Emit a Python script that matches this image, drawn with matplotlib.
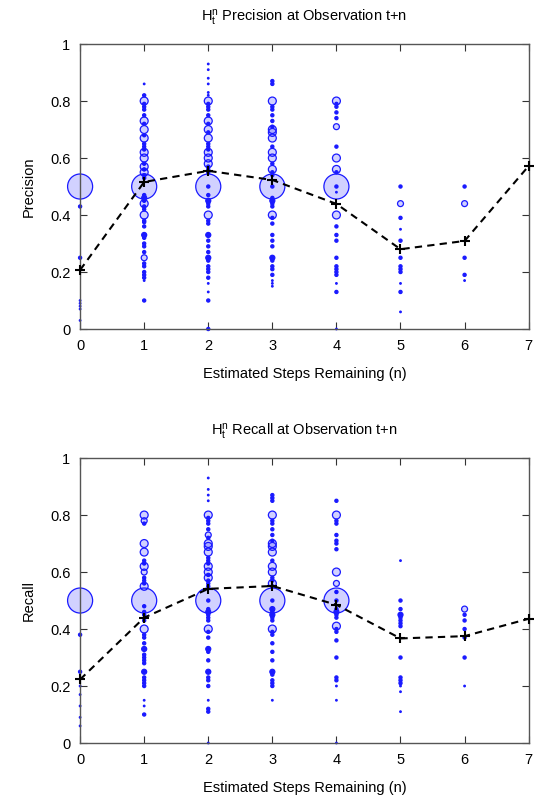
"""Precision / recall of H_t^n against estimated steps remaining (two stacked panels)."""

import matplotlib
matplotlib.use("Agg")
import matplotlib.pyplot as plt
import numpy as np

plt.rcParams["font.family"] = ["Liberation Sans", "DejaVu Sans"]
plt.rcParams["mathtext.fontset"] = "custom"
plt.rcParams["mathtext.rm"] = "Liberation Sans"
plt.rcParams["mathtext.it"] = "Liberation Sans"

# marker weight codes (number of runs behind a point)
BIG, RING, SRING, MED, SMALL, TINY = 250, 25, 14, 10, 4, 1

steps = [0, 1, 2, 3, 4, 5, 6, 7]
prec_mean = [0.207, 0.516, 0.555, 0.523, 0.439, 0.280, 0.309, 0.572]
rec_mean = [0.223, 0.440, 0.541, 0.551, 0.485, 0.367, 0.375, 0.436]

# --- precision points, one (values, weights) pair per step ---
prec_y0 = [0.50, 0.43, 0.25, 0.10, 0.09, 0.08, 0.07, 0.03]
prec_w0 = [BIG, SMALL, SMALL, TINY, TINY, TINY, TINY, TINY]
prec_y1 = [0.86, 0.82, 0.80, 0.79, 0.78, 0.77, 0.75, 0.73, 0.72, 0.70, 0.68, 0.67,
           0.65, 0.64, 0.63, 0.62, 0.60, 0.58, 0.57, 0.56, 0.55, 0.54, 0.53, 0.50,
           0.47, 0.46, 0.45, 0.44, 0.43, 0.42, 0.40, 0.38, 0.375, 0.36, 0.33, 0.32,
           0.30, 0.29, 0.27, 0.25, 0.23, 0.22, 0.20, 0.19, 0.18, 0.17, 0.10]
prec_w1 = [TINY, SMALL, RING, SMALL, SMALL, SMALL, SMALL, RING, SMALL, RING, SMALL, RING,
           SMALL, SMALL, SMALL, RING, RING, SMALL, RING, SMALL, RING, SMALL, SMALL, BIG,
           SMALL, MED, SMALL, RING, SMALL, SMALL, RING, SMALL, SMALL, SMALL, MED, SMALL,
           SMALL, SMALL, SMALL, SRING, SMALL, SMALL, SMALL, SMALL, SMALL, TINY, SMALL]
prec_y2 = [0.93, 0.91, 0.88, 0.86, 0.83, 0.82, 0.80, 0.79, 0.78, 0.77, 0.75, 0.73,
           0.72, 0.70, 0.69, 0.67, 0.65, 0.64, 0.63, 0.62, 0.60, 0.58, 0.57, 0.56,
           0.55, 0.50, 0.50, 0.47, 0.45, 0.44, 0.43, 0.40, 0.38, 0.37, 0.33, 0.31,
           0.29, 0.27, 0.25, 0.24, 0.22, 0.21, 0.20, 0.18, 0.16, 0.13, 0.10, 0.0]
prec_w2 = [TINY, TINY, TINY, TINY, TINY, TINY, RING, SMALL, SMALL, SMALL, SMALL, RING,
           SMALL, RING, SMALL, RING, SMALL, SMALL, SMALL, RING, RING, RING, SMALL, SMALL,
           SMALL, BIG, SMALL, SMALL, MED, SMALL, SMALL, RING, SMALL, SMALL, MED, SMALL,
           SMALL, SMALL, MED, SMALL, SMALL, SMALL, SMALL, SMALL, TINY, TINY, SMALL, SMALL]
prec_y3 = [0.87, 0.86, 0.80, 0.78, 0.77, 0.75, 0.73, 0.71, 0.70, 0.69, 0.67, 0.64,
           0.62, 0.60, 0.58, 0.56, 0.55, 0.54, 0.50, 0.50, 0.46, 0.45, 0.44, 0.43,
           0.40, 0.39, 0.37, 0.33, 0.31, 0.29, 0.25, 0.24, 0.22, 0.21, 0.19, 0.17,
           0.16, 0.15]
prec_w3 = [SMALL, SMALL, RING, SMALL, SMALL, SMALL, SMALL, SMALL, RING, RING, RING, SMALL,
           RING, RING, SMALL, RING, SMALL, SMALL, BIG, SMALL, SMALL, MED, SMALL, SMALL,
           RING, SMALL, SMALL, SMALL, SMALL, SMALL, MED, SMALL, SMALL, SMALL, SMALL, TINY,
           TINY, TINY]
prec_y4 = [0.80, 0.79, 0.78, 0.76, 0.74, 0.71, 0.64, 0.60, 0.56, 0.55, 0.50, 0.50,
           0.48, 0.40, 0.36, 0.33, 0.31, 0.25, 0.22, 0.21, 0.20, 0.19, 0.16, 0.13, 0.0]
prec_w4 = [RING, SMALL, SMALL, SMALL, SMALL, SRING, SMALL, RING, RING, SMALL, BIG, SMALL,
           TINY, RING, SMALL, SMALL, SMALL, SMALL, SMALL, SMALL, SMALL, SMALL, TINY, SMALL, TINY]
prec_y5 = [0.50, 0.44, 0.39, 0.35, 0.31, 0.25, 0.22, 0.21, 0.20, 0.16, 0.13, 0.06]
prec_w5 = [SMALL, SRING, SMALL, TINY, SMALL, SMALL, SMALL, SMALL, SMALL, TINY, SMALL, TINY]
prec_y6 = [0.50, 0.44, 0.25, 0.19, 0.17]
prec_w6 = [SMALL, SRING, SMALL, SMALL, TINY]

# --- recall points ---
rec_y0 = [0.50, 0.38, 0.25, 0.20, 0.17, 0.13, 0.09, 0.06]
rec_w0 = [BIG, SMALL, SMALL, TINY, TINY, TINY, TINY, TINY]
rec_y1 = [0.80, 0.78, 0.77, 0.70, 0.67, 0.64, 0.63, 0.62, 0.60, 0.58, 0.57, 0.56,
          0.55, 0.50, 0.48, 0.46, 0.45, 0.43, 0.40, 0.38, 0.37, 0.35, 0.33, 0.31,
          0.30, 0.29, 0.28, 0.25, 0.23, 0.22, 0.21, 0.20, 0.15, 0.13, 0.10]
rec_w1 = [RING, SRING, SMALL, RING, RING, SMALL, SMALL, RING, SRING, SMALL, SMALL, SMALL,
          RING, BIG, SMALL, SMALL, SMALL, SMALL, RING, SMALL, SMALL, SMALL, MED, SMALL,
          SMALL, SMALL, SMALL, MED, SMALL, SMALL, SMALL, SMALL, TINY, TINY, SMALL]
rec_y2 = [0.93, 0.89, 0.87, 0.85, 0.80, 0.79, 0.78, 0.77, 0.75, 0.73, 0.72, 0.70,
          0.69, 0.67, 0.65, 0.64, 0.63, 0.62, 0.60, 0.59, 0.58, 0.57, 0.56, 0.55,
          0.50, 0.50, 0.47, 0.46, 0.45, 0.44, 0.43, 0.40, 0.39, 0.37, 0.33, 0.32,
          0.29, 0.25, 0.23, 0.22, 0.20, 0.15, 0.12, 0.11, 0.0]
rec_w2 = [TINY, TINY, TINY, TINY, RING, SMALL, SMALL, SMALL, SMALL, SRING, SMALL, RING,
          RING, RING, SMALL, SMALL, SMALL, RING, RING, SMALL, RING, SMALL, SMALL, SMALL,
          BIG, SMALL, SMALL, MED, SMALL, SMALL, SMALL, RING, SMALL, SMALL, MED, SMALL,
          SMALL, MED, SMALL, SMALL, SMALL, TINY, SMALL, SMALL, TINY]
rec_y3 = [0.87, 0.86, 0.85, 0.80, 0.78, 0.77, 0.75, 0.73, 0.71, 0.70, 0.69, 0.67,
          0.64, 0.62, 0.60, 0.58, 0.57, 0.56, 0.55, 0.50, 0.50, 0.47, 0.46, 0.45,
          0.44, 0.43, 0.40, 0.39, 0.38, 0.35, 0.32, 0.29, 0.25, 0.24, 0.22, 0.21,
          0.20, 0.15]
rec_w3 = [SMALL, SMALL, SMALL, RING, SMALL, SMALL, SMALL, SMALL, SMALL, RING, RING, RING,
          SMALL, RING, RING, SMALL, SMALL, RING, SMALL, BIG, SMALL, MED, SMALL, MED,
          SMALL, SMALL, RING, SMALL, SMALL, SMALL, SMALL, SMALL, MED, SMALL, SMALL, SMALL,
          SMALL, TINY]
rec_y4 = [0.85, 0.80, 0.78, 0.77, 0.73, 0.71, 0.70, 0.68, 0.60, 0.56, 0.53, 0.50,
          0.50, 0.47, 0.46, 0.45, 0.44, 0.41, 0.40, 0.39, 0.36, 0.30, 0.23, 0.22,
          0.20, 0.15, 0.0]
rec_w4 = [SMALL, RING, SMALL, SMALL, SMALL, SMALL, SMALL, SMALL, RING, SRING, SMALL, BIG,
          SMALL, SMALL, MED, SMALL, SMALL, RING, SMALL, SMALL, SMALL, SMALL, SMALL, SMALL,
          TINY, TINY, TINY]
rec_y5 = [0.64, 0.50, 0.47, 0.45, 0.44, 0.43, 0.42, 0.41, 0.30, 0.23, 0.22, 0.21,
          0.20, 0.18, 0.11]
rec_w5 = [TINY, SMALL, SMALL, MED, SMALL, SMALL, SMALL, SMALL, SMALL, SMALL, SMALL, SMALL,
          TINY, TINY, TINY]
rec_y6 = [0.47, 0.45, 0.43, 0.40, 0.37, 0.30, 0.20]
rec_w6 = [SRING, SMALL, SMALL, SMALL, SMALL, SMALL, TINY]

prec_points = [(prec_y0, prec_w0), (prec_y1, prec_w1), (prec_y2, prec_w2),
               (prec_y3, prec_w3), (prec_y4, prec_w4), (prec_y5, prec_w5),
               (prec_y6, prec_w6)]
rec_points = [(rec_y0, rec_w0), (rec_y1, rec_w1), (rec_y2, rec_w2),
              (rec_y3, rec_w3), (rec_y4, rec_w4), (rec_y5, rec_w5),
              (rec_y6, rec_w6)]

LIGHT = (0.0, 0.0, 1.0, 0.18)
SOLID = (0.1, 0.1, 1.0, 1.0)


def draw_panel(ax, points, mean, title, ylabel):
    for step, (ys, ws) in enumerate(points):
        ys = np.asarray(ys)
        ws = np.asarray(ws, dtype=float)
        # small circles render as solid dots, larger ones as translucent rings
        faces = [LIGHT if w >= SRING else SOLID for w in ws]
        ax.scatter(np.full(len(ys), step), ys, s=ws * 1.3,
                   facecolor=faces, edgecolor="#1a1aff",
                   linewidths=0.9, zorder=2, clip_on=False)
    ax.plot(steps, mean, linestyle=(0, (3.5, 2.5)), color="black", linewidth=1.5,
            marker="+", markersize=7, markeredgewidth=1.5, zorder=3, clip_on=False)

    ax.set_xlim(0, 7)
    ax.set_ylim(0, 1)
    ax.set_xticks(range(8))
    ax.set_yticks([0, 0.2, 0.4, 0.6, 0.8, 1])
    ax.set_yticklabels(["0", "0.2", "0.4", "0.6", "0.8", "1"])
    ax.tick_params(direction="in", length=5, width=0.8, color="#333333",
                   top=True, right=True, labelsize=10.5, pad=7)
    for sp in ax.spines.values():
        sp.set_color("#555555")
        sp.set_linewidth(1.0)
    ax.set_title(title, fontsize=10.5, pad=16)
    ax.set_xlabel("Estimated Steps Remaining (n)", fontsize=10.5, labelpad=10)
    ax.set_ylabel(ylabel, fontsize=10.5, labelpad=10)


fig = plt.figure(figsize=(5.34, 8.05), dpi=100)
ax1 = fig.add_axes([0.150, 0.5913, 0.840, 0.354])
ax2 = fig.add_axes([0.150, 0.0770, 0.840, 0.354])

draw_panel(ax1, prec_points, prec_mean,
           r"$\mathregular{H_t^n}$ Precision at Observation t+n", "Precision")
draw_panel(ax2, rec_points, rec_mean,
           r"$\mathregular{H_t^n}$ Recall at Observation t+n", "Recall")

fig.savefig("out.png", dpi=100)
plt.close(fig)
